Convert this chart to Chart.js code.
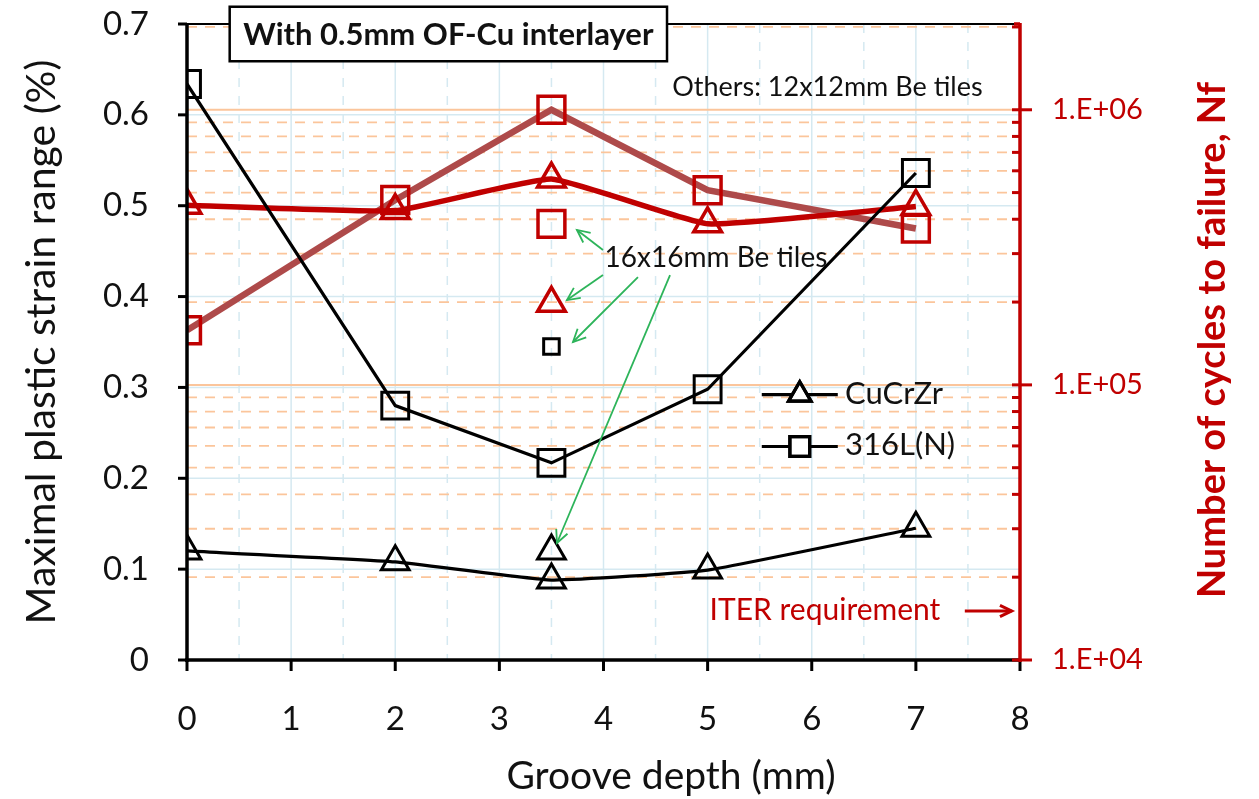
<!DOCTYPE html>
<html>
<head>
<meta charset="utf-8">
<script src="https://cdn.jsdelivr.net/npm/chart.js@4/dist/chart.umd.min.js"></script>
<style>
  html, body { margin: 0; padding: 0; background: #fff; }
  #wrap { width: 1259px; height: 799px; }
</style>
</head>
<body>
<div id="wrap"><canvas id="chart" width="1259" height="799"></canvas></div>
<script>
// groove depth (mm)
const grooveDepth = [0, 2, 3.5, 5, 7];
// maximal plastic strain range (%)
const strainCuCrZr = [0.120, 0.108, 0.088, 0.099, 0.145];
const strain316L = [0.634, 0.280, 0.217, 0.298, 0.536];
// number of cycles to failure
const cyclesCuCrZr = [4.5e5, 4.3e5, 5.6e5, 3.85e5, 4.45e5];
const cycles316L = [1.58e5, 4.7e5, 1.0e6, 5.1e5, 3.7e5];
// 16x16mm Be tiles (only at 3.5 mm)
const bigTileDepth = [3.5];
const bigTileStrainCuCrZr = [0.120];
const bigTileStrain316L = [0.345];
const bigTileCyclesCuCrZr = [1.98e5];
const bigTileCycles316L = [3.85e5];
// ticks
const xTicks = [0, 1, 2, 3, 4, 5, 6, 7, 8];
const strainTicks = [0, 0.1, 0.2, 0.3, 0.4, 0.5, 0.6, 0.7];
const cycleTicks = [1e4, 1e5, 1e6];

const RED = '#C00000';
const BROWN = '#AE4a4a';
const FONT = 'Lato, "Open Sans", sans-serif';

const pts = (xs, ys) => xs.map((x, i) => ({ x: x, y: ys[i] }));

function seg(ctx, x1, y1, x2, y2) {
  ctx.beginPath();
  ctx.moveTo(x1, y1);
  ctx.lineTo(x2, y2);
  ctx.stroke();
}

function arrow(ctx, x1, y1, x2, y2, head) {
  seg(ctx, x1, y1, x2, y2);
  const ang = Math.atan2(y2 - y1, x2 - x1);
  ctx.beginPath();
  ctx.moveTo(x2 - head * Math.cos(ang - 0.45), y2 - head * Math.sin(ang - 0.45));
  ctx.lineTo(x2, y2);
  ctx.lineTo(x2 - head * Math.cos(ang + 0.45), y2 - head * Math.sin(ang + 0.45));
  ctx.stroke();
}

function noPad(s) {
  s.paddingTop = 0;
  s.paddingBottom = 0;
  s.paddingLeft = 0;
  s.paddingRight = 0;
}

const decor = {
  id: 'decor',
  beforeDatasetsDraw(chart) {
    const { ctx, chartArea: a, scales: { x, y, y2 } } = chart;
    ctx.save();
    // vertical grid: solid at integers, dashed at halves
    ctx.strokeStyle = '#d5e9f1';
    ctx.lineWidth = 1.5;
    for (let k = 1; k < 16; k++) {
      const px = x.getPixelForValue(k / 2);
      ctx.setLineDash(k % 2 ? [9, 9] : []);
      seg(ctx, px, a.top, px, a.bottom);
    }
    // left axis grid
    ctx.setLineDash([]);
    strainTicks.slice(1, -1).forEach(v => {
      const py = y.getPixelForValue(v);
      seg(ctx, a.left, py, a.right, py);
    });
    // right axis grid (log): solid at decades, dashed at minors
    ctx.strokeStyle = '#fbc59b';
    for (let e = 4; e <= 6; e++) {
      for (let m = 1; m <= 9; m++) {
        const v = m * Math.pow(10, e);
        if (v <= y2.min || v > y2.max) continue;
        const py = y2.getPixelForValue(v);
        ctx.lineWidth = m === 1 ? 2 : 1.8;
        ctx.setLineDash(m === 1 ? [] : [10, 8]);
        seg(ctx, a.left, py, a.right, py);
      }
    }
    ctx.restore();
  },
  afterDraw(chart) {
    const { ctx, chartArea: a, scales: { x, y, y2 } } = chart;
    const X = v => x.getPixelForValue(v);
    const Y = v => y.getPixelForValue(v);
    ctx.save();
    ctx.setLineDash([]);
    // frame
    ctx.strokeStyle = '#000';
    ctx.lineWidth = 2;
    seg(ctx, a.left, a.top, a.right, a.top);
    ctx.lineWidth = 3.5;
    seg(ctx, a.left, a.top - 1, a.left, a.bottom + 2);
    seg(ctx, a.left - 2, a.bottom, a.right, a.bottom);
    // left ticks
    ctx.lineWidth = 3;
    strainTicks.forEach(v => seg(ctx, a.left - 9, Y(v), a.left, Y(v)));
    // bottom ticks
    xTicks.forEach(v => seg(ctx, X(v), a.bottom, X(v), a.bottom + 11));
    // right axis in red
    ctx.strokeStyle = RED;
    ctx.lineWidth = 3.5;
    seg(ctx, a.right, a.top - 1, a.right, a.bottom + 2);
    seg(ctx, a.right - 6, a.top, a.right, a.top);
    ctx.lineWidth = 3;
    for (let e = 4; e <= 6; e++) {
      for (let m = 1; m <= 9; m++) {
        const v = m * Math.pow(10, e);
        if (v < y2.min || v > y2.max) continue;
        const py = y2.getPixelForValue(v);
        if (m === 1) seg(ctx, a.right - 8, py, a.right + 12, py);
        else seg(ctx, a.right - 8, py, a.right, py);
      }
    }
    // right axis title (reads bottom to top)
    ctx.save();
    ctx.translate(1213, (a.top + a.bottom) / 2 - 2);
    ctx.rotate(-Math.PI / 2);
    ctx.fillStyle = RED;
    ctx.font = 'bold 38px ' + FONT;
    ctx.textAlign = 'center';
    ctx.textBaseline = 'middle';
    ctx.fillText('Number of cycles to failure, Nf', 0, 0);
    ctx.restore();

    // x axis title
    ctx.fillStyle = '#111';
    ctx.font = '39px ' + FONT;
    ctx.textAlign = 'center';
    ctx.textBaseline = 'middle';
    ctx.fillText('Groove depth (mm)', 671, 776);

    // title box
    const bx1 = X(0.41), bx2 = X(4.61), by1 = Y(0.719), by2 = Y(0.659);
    ctx.fillStyle = '#fff';
    ctx.fillRect(bx1, by1, bx2 - bx1, by2 - by1);
    ctx.strokeStyle = '#000';
    ctx.lineWidth = 2.5;
    ctx.strokeRect(bx1, by1, bx2 - bx1, by2 - by1);
    ctx.fillStyle = '#111';
    ctx.font = 'bold 31px ' + FONT;
    ctx.fillText('With 0.5mm OF-Cu interlayer', (bx1 + bx2) / 2, (by1 + by2) / 2 + 1);

    ctx.font = '27px ' + FONT;
    ctx.fillText('Others: 12x12mm Be tiles', X(6.15), Y(0.63));

    // 16x16 annotation with green arrows
    ctx.font = '28px ' + FONT;
    ctx.fillText('16x16mm Be tiles', X(5.08), Y(0.443));
    ctx.strokeStyle = '#2db45a';
    ctx.lineWidth = 1.8;
    arrow(ctx, X(3.995), Y(0.4513), X(3.745), Y(0.4733), 14);
    arrow(ctx, X(3.995), Y(0.4237), X(3.649), Y(0.3962), 14);
    arrow(ctx, X(4.331), Y(0.4215), X(3.707), Y(0.350), 14);
    arrow(ctx, X(4.639), Y(0.4237), X(3.553), Y(0.1288), 14);

    // ITER requirement
    ctx.fillStyle = RED;
    ctx.font = '30px ' + FONT;
    ctx.fillText('ITER requirement', X(6.127), Y(0.055));
    ctx.strokeStyle = RED;
    ctx.lineWidth = 3;
    arrow(ctx, X(7.47), Y(0.054), X(7.92), Y(0.054), 13);

    // legend
    const legend = [
      { label: 'CuCrZr', style: 'triangle', r: 13, yv: 0.292 },
      { label: '316L(N)', style: 'rect', r: 14, yv: 0.235 }
    ];
    legend.forEach(it => {
      const py = Y(it.yv);
      ctx.strokeStyle = '#000';
      ctx.lineWidth = 3.2;
      seg(ctx, X(5.52), py, X(6.25), py);
      ctx.fillStyle = '#fff';
      Chart.helpers.drawPoint(ctx, {
        pointStyle: it.style, rotation: 0, radius: it.r, borderWidth: 3
      }, X(5.885), py);
      ctx.stroke();
      ctx.fillStyle = '#111';
      ctx.textAlign = 'left';
      ctx.font = '31px ' + FONT;
      ctx.fillText(it.label, X(6.32), py - 1);
    });
    ctx.restore();
  }
};

const lineStyle = (color, width, tension) => ({
  borderColor: color,
  borderWidth: width,
  tension: tension,
  showLine: true,
  fill: false
});
const marker = (style, r, color, bw) => ({
  pointStyle: style,
  pointRadius: r,
  pointHoverRadius: r,
  pointBorderColor: color,
  pointBackgroundColor: 'rgba(0,0,0,0)',
  pointBorderWidth: bw
});

new Chart(document.getElementById('chart'), {
  type: 'scatter',
  data: {
    datasets: [
      Object.assign({ label: 'CuCrZr', data: pts(grooveDepth, strainCuCrZr), yAxisID: 'y' },
        lineStyle('#000', 3.2, 0.12), marker('triangle', 16, '#000', 3)),
      Object.assign({ label: '316L(N)', data: pts(grooveDepth, strain316L), yAxisID: 'y' },
        lineStyle('#000', 3.2, 0), marker('rect', 19, '#000', 3)),
      Object.assign({ label: 'CuCrZr 16x16', data: pts(bigTileDepth, bigTileStrainCuCrZr), yAxisID: 'y', showLine: false },
        marker('triangle', 16, '#000', 3)),
      Object.assign({ label: '316L(N) 16x16', data: pts(bigTileDepth, bigTileStrain316L), yAxisID: 'y', showLine: false },
        marker('rect', 11, '#000', 3)),
      Object.assign({ label: 'Nf CuCrZr', data: pts(grooveDepth, cyclesCuCrZr), yAxisID: 'y2' },
        lineStyle(RED, 5.5, 0.12), marker('triangle', 16, RED, 3.5)),
      Object.assign({ label: 'Nf 316L(N)', data: pts(grooveDepth, cycles316L), yAxisID: 'y2' },
        lineStyle(BROWN, 6.5, 0), marker('rect', 19, RED, 3.5)),
      Object.assign({ label: 'Nf CuCrZr 16x16', data: pts(bigTileDepth, bigTileCyclesCuCrZr), yAxisID: 'y2', showLine: false },
        marker('triangle', 16, RED, 3.5)),
      Object.assign({ label: 'Nf 316L(N) 16x16', data: pts(bigTileDepth, bigTileCycles316L), yAxisID: 'y2', showLine: false },
        marker('rect', 19, RED, 3.5))
    ]
  },
  options: {
    responsive: false,
    animation: false,
    layout: { padding: { top: 24, left: 0, right: 0, bottom: 0 } },
    plugins: {
      legend: { display: false },
      tooltip: { enabled: false }
    },
    scales: {
      x: {
        type: 'linear',
        min: 0,
        max: 8,
        afterFit: s => { s.height = 139; noPad(s); },
        afterBuildTicks: s => { s.ticks = xTicks.map(v => ({ value: v })); },
        grid: { display: false, drawTicks: false },
        border: { display: false },
        ticks: { padding: 40, color: '#111', font: { family: FONT, size: 33 } },
        title: { display: false }
      },
      y: {
        type: 'linear',
        position: 'left',
        min: 0,
        max: 0.7,
        afterFit: s => { s.width = 187; noPad(s); },
        afterBuildTicks: s => { s.ticks = strainTicks.map(v => ({ value: v })); },
        grid: { display: false, drawTicks: false },
        border: { display: false },
        ticks: {
          padding: 38,
          color: '#111',
          font: { family: FONT, size: 33 },
          callback: v => (v === 0 ? '0' : v.toFixed(1))
        },
        title: {
          display: true,
          text: 'Maximal plastic strain range (%)',
          color: '#111',
          font: { family: FONT, size: 41 },
          padding: { top: 17, bottom: 0 }
        }
      },
      y2: {
        type: 'logarithmic',
        position: 'right',
        min: 1e4,
        max: 2.05e6,
        afterFit: s => { s.width = 239; noPad(s); },
        afterBuildTicks: s => { s.ticks = cycleTicks.map(v => ({ value: v })); },
        grid: { display: false, drawTicks: false },
        border: { display: false },
        ticks: {
          padding: 32,
          color: RED,
          font: { family: FONT, size: 29 },
          callback: v => '1.E+' + String(Math.round(Math.log10(v))).padStart(2, '0')
        }
      }
    }
  },
  plugins: [decor]
});
</script>
</body>
</html>
